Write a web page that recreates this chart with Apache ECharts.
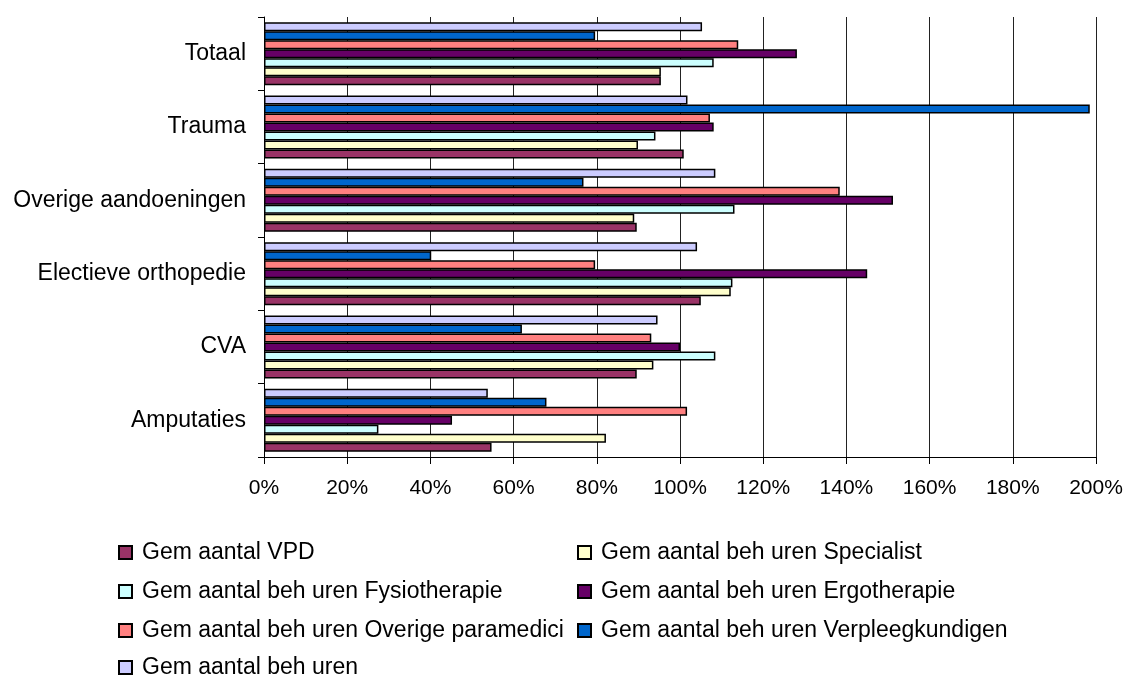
<!DOCTYPE html>
<html>
<head>
<meta charset="utf-8">
<script src="https://cdn.jsdelivr.net/npm/echarts@6/dist/echarts.min.js"></script>
<style>html,body{margin:0;padding:0;background:#fff}#c{width:1127px;height:675px}</style>
</head>
<body>
<div id="c"></div>
<script>
const categories = ['Amputaties', 'CVA', 'Electieve orthopedie', 'Overige aandoeningen', 'Trauma', 'Totaal'];
const xTicks = [0, 0.2, 0.4, 0.6, 0.8, 1.0, 1.2, 1.4, 1.6, 1.8, 2.0];

const seriesNames = [
  'Gem aantal VPD',
  'Gem aantal beh uren Specialist',
  'Gem aantal beh uren Fysiotherapie',
  'Gem aantal beh uren Ergotherapie',
  'Gem aantal beh uren Overige paramedici',
  'Gem aantal beh uren Verpleegkundigen',
  'Gem aantal beh uren'
];
const seriesColors = ['#993366', '#FFFFCC', '#CCFFFF', '#660066', '#FF8080', '#0066CC', '#CCCCFF'];

// values per series, in category order (Amputaties ... Totaal)
const vpd          = [0.547, 0.896, 1.050, 0.896, 1.009, 0.954];
const specialist   = [0.822, 0.936, 1.122, 0.890, 0.899, 0.954];
const fysio        = [0.275, 1.085, 1.126, 1.131, 0.941, 1.081];
const ergo         = [0.452, 1.000, 1.450, 1.512, 1.081, 1.281];
const overige      = [1.017, 0.931, 0.796, 1.384, 1.072, 1.140];
const verpleeg     = [0.679, 0.620, 0.402, 0.768, 1.985, 0.796];
const behUren      = [0.538, 0.946, 1.041, 1.085, 1.018, 1.053];

const seriesValues = [vpd, specialist, fysio, ergo, overige, verpleeg, behUren];

const chart = echarts.init(document.getElementById('c'));
const font = 'Liberation Sans, Arial, sans-serif';

// legend grid: [column, row] for each series
const legendCell = [[0, 0], [1, 0], [0, 1], [1, 1], [0, 2], [1, 2], [0, 3]];
const legendColX = [118, 577];
const legendRowY = [552, 591, 630, 667];

const legends = seriesNames.map((name, i) => ({
  data: [name],
  left: legendColX[legendCell[i][0]],
  top: legendRowY[legendCell[i][1]] - 11,
  orient: 'horizontal',
  itemWidth: 13,
  itemHeight: 13,
  icon: 'rect',
  padding: 0,
  selectedMode: false,
  textStyle: { fontFamily: font, fontSize: 23, lineHeight: 22, color: '#000', padding: [0, 0, 0, 5] }
}));

// ECharts places the first series at the top of a horizontal category band,
// so series are added in reverse to put VPD at the bottom.
const order = seriesNames.map((_, i) => seriesNames.length - 1 - i);

chart.setOption({
  animation: false,
  backgroundColor: '#fff',
  grid: { left: 264, right: 31, top: 17, bottom: 218, containLabel: false },
  xAxis: {
    type: 'value',
    min: xTicks[0],
    max: xTicks[xTicks.length - 1],
    interval: xTicks[1] - xTicks[0],
    axisLine: { show: true, lineStyle: { color: '#000', width: 1 } },
    axisTick: { show: true, length: 7, lineStyle: { color: '#000' } },
    axisLabel: {
      formatter: v => Math.round(v * 100) + '%',
      fontFamily: font, fontSize: 21, color: '#000', margin: 21
    },
    splitLine: { show: true, lineStyle: { color: '#222', width: 1 } }
  },
  yAxis: {
    type: 'category',
    data: categories,
    axisLine: { show: true, lineStyle: { color: '#000', width: 1 } },
    axisTick: { show: true, length: 6, lineStyle: { color: '#000' } },
    axisLabel: { fontFamily: font, fontSize: 23, color: '#000', margin: 18 },
    splitLine: { show: false }
  },
  legend: legends,
  series: order.map(i => ({
    name: seriesNames[i],
    type: 'bar',
    data: seriesValues[i],
    barGap: '0%',
    barCategoryGap: '14%',
    itemStyle: { color: seriesColors[i], borderColor: '#000', borderWidth: 1.5 }
  }))
});
</script>
</body>
</html>
